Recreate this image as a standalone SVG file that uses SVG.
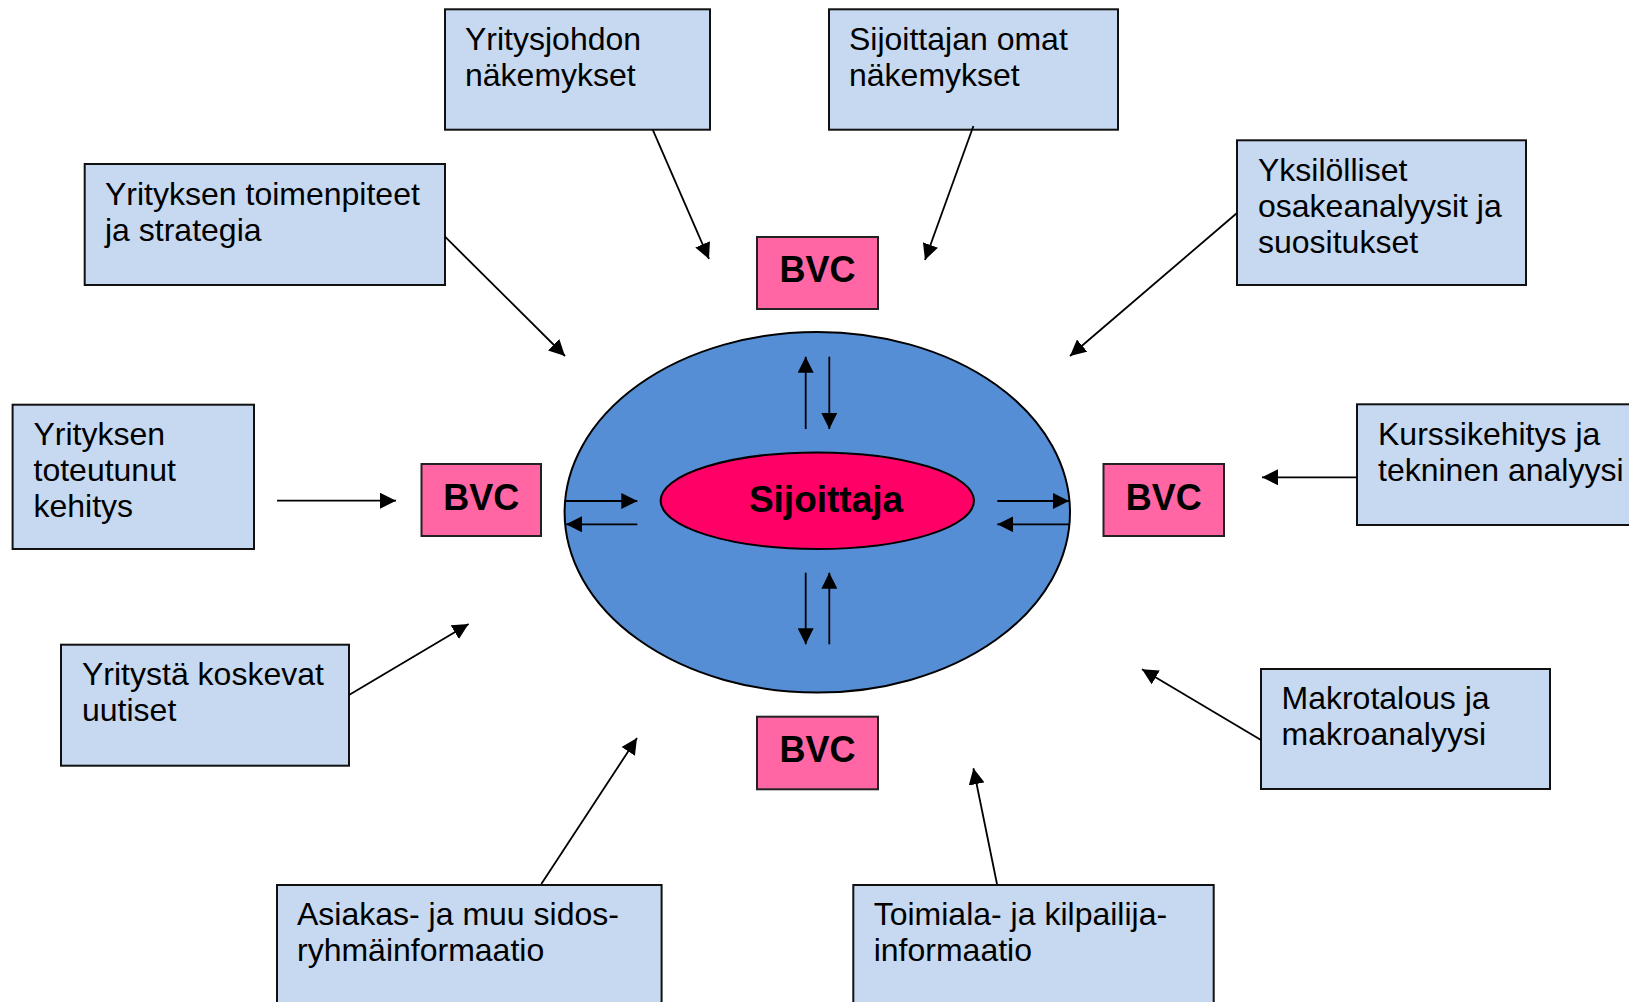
<svg xmlns="http://www.w3.org/2000/svg" width="1629" height="1002" viewBox="0 0 1629 1002">
<style>
.box{fill:#C6D9F1;stroke:#111;stroke-width:2}
.bvc{fill:#FF66A3;stroke:#222;stroke-width:2}
.t{font-family:"Liberation Sans",Arial,sans-serif;font-size:32px;fill:#000}
.b{font-family:"Liberation Sans",Arial,sans-serif;font-size:36px;font-weight:bold;fill:#000;text-anchor:middle}
.c line{stroke:#000;stroke-width:1.8;marker-end:url(#ah)}
</style>
<defs>
<marker id="ah" viewBox="0 0 16 16" refX="16" refY="8" markerWidth="16" markerHeight="16" markerUnits="userSpaceOnUse" orient="auto">
<path d="M0,0 L16,8 L0,16 z" fill="#000"/>
</marker>
</defs>
<rect width="1629" height="1002" fill="#fff"/>

<g id="center">
<ellipse cx="817.3" cy="512.3" rx="252.7" ry="180.3" fill="#558ED5" stroke="#000" stroke-width="2"/>
<ellipse cx="817.3" cy="500.7" rx="156.7" ry="48.3" fill="#FF0066" stroke="#000" stroke-width="2"/>
<text x="826" y="512.3" class="b" style="font-size:37px">Sijoittaja</text>
</g>

<g id="n-yritysjohdon"><rect class="box" x="445" y="9.3" width="265" height="120.4"/>
<text class="t" x="465" y="50">Yritysjohdon</text><text class="t" x="465" y="86">näkemykset</text></g>
<g id="n-sijoittajan"><rect class="box" x="829" y="9.3" width="289" height="120.4"/>
<text class="t" x="849" y="50">Sijoittajan omat</text><text class="t" x="849" y="86">näkemykset</text></g>
<g id="n-toimenpiteet"><rect class="box" x="84.7" y="164" width="360.3" height="121"/>
<text class="t" x="105" y="204.5">Yrityksen toimenpiteet</text><text class="t" x="105" y="240.5">ja strategia</text></g>
<g id="n-yksilolliset"><rect class="box" x="1237" y="140.3" width="289" height="144.7"/>
<text class="t" x="1258" y="180.5">Yksilölliset</text><text class="t" x="1258" y="216.5">osakeanalyysit ja</text><text class="t" x="1258" y="252.5">suositukset</text></g>
<g id="n-toteutunut"><rect class="box" x="12.6" y="404.7" width="241.4" height="144.3"/>
<text class="t" x="33.5" y="445">Yrityksen</text><text class="t" x="33.5" y="481">toteutunut</text><text class="t" x="33.5" y="517">kehitys</text></g>
<g id="n-kurssikehitys"><rect class="box" x="1357" y="404.3" width="290" height="120.7"/>
<text class="t" x="1378" y="444.5">Kurssikehitys ja</text><text class="t" x="1378" y="480.5">tekninen analyysi</text></g>
<g id="n-uutiset"><rect class="box" x="61" y="644.7" width="288" height="121"/>
<text class="t" x="82" y="685">Yritystä koskevat</text><text class="t" x="82" y="721">uutiset</text></g>
<g id="n-makro"><rect class="box" x="1261" y="669" width="289" height="120"/>
<text class="t" x="1281.5" y="709">Makrotalous ja</text><text class="t" x="1281.5" y="745">makroanalyysi</text></g>
<g id="n-asiakas"><rect class="box" x="277" y="885" width="384.6" height="140"/>
<text class="t" x="297" y="925">Asiakas- ja muu sidos-</text><text class="t" x="297" y="961">ryhmäinformaatio</text></g>
<g id="n-toimiala"><rect class="box" x="853.3" y="885" width="360.4" height="140"/>
<text class="t" x="873.7" y="925">Toimiala- ja kilpailija-</text><text class="t" x="873.7" y="961">informaatio</text></g>

<g id="bvc-top"><rect class="bvc" x="757" y="237" width="121" height="72"/><text class="b" x="817.5" y="282">BVC</text></g>
<g id="bvc-left"><rect class="bvc" x="421.5" y="464" width="119.5" height="72"/><text class="b" x="481.3" y="509.5">BVC</text></g>
<g id="bvc-right"><rect class="bvc" x="1103.5" y="464" width="120.5" height="72"/><text class="b" x="1163.8" y="509.5">BVC</text></g>
<g id="bvc-bottom"><rect class="bvc" x="757" y="716.7" width="121" height="72.6"/><text class="b" x="817.5" y="762">BVC</text></g>

<g id="connectors" class="c">
<line x1="652.7" y1="129.7" x2="709" y2="259"/>
<line x1="973.4" y1="126" x2="925" y2="260"/>
<line x1="445" y1="236.7" x2="565" y2="356"/>
<line x1="1237" y1="213" x2="1070" y2="356"/>
<line x1="277" y1="500.7" x2="396" y2="500.7"/>
<line x1="1357" y1="477.3" x2="1262" y2="477.3"/>
<line x1="349" y1="695" x2="468.6" y2="624"/>
<line x1="1261" y1="740" x2="1142" y2="669.3"/>
<line x1="541.3" y1="884" x2="637" y2="738"/>
<line x1="997" y1="884" x2="973.4" y2="768.3"/>
<line x1="805.7" y1="429" x2="805.7" y2="356.7"/>
<line x1="829.3" y1="356.7" x2="829.3" y2="429"/>
<line x1="805.7" y1="572.7" x2="805.7" y2="644.3"/>
<line x1="829.3" y1="644.3" x2="829.3" y2="572.7"/>
<line x1="566" y1="501" x2="637.3" y2="501"/>
<line x1="637.3" y1="524.3" x2="566" y2="524.3"/>
<line x1="997.3" y1="501" x2="1069" y2="501"/>
<line x1="1069" y1="524.3" x2="997.3" y2="524.3"/>
</g>
</svg>
